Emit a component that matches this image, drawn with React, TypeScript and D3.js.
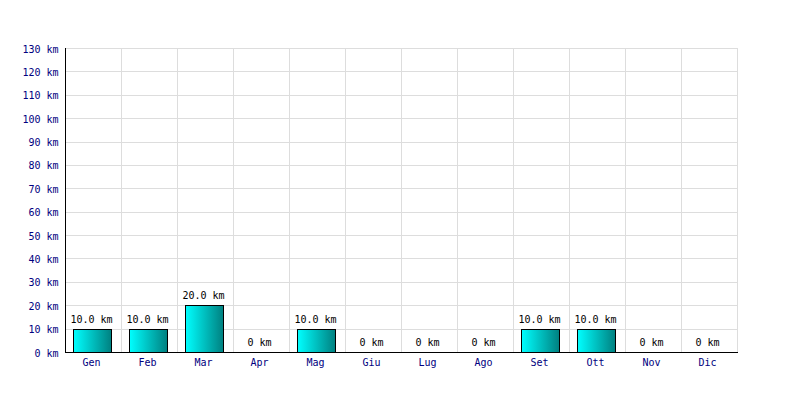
import React from "react";
import * as d3 from "d3";

const months = ["Gen", "Feb", "Mar", "Apr", "Mag", "Giu", "Lug", "Ago", "Set", "Ott", "Nov", "Dic"];
const values = [10, 10, 20, 0, 10, 0, 0, 0, 10, 10, 0, 0];
const yTicks = [0, 10, 20, 30, 40, 50, 60, 70, 80, 90, 100, 110, 120, 130];

export default function App() {
  const W = 800, H = 400;
  const left = 65, right = 737, top = 48, bottom = 352;
  const x = d3.scaleBand<string>().domain(months).range([left, right]).paddingInner(0.32).paddingOuter(0.16);
  const xg = d3.scaleBand<string>().domain(months).range([left, right]);
  const y = d3.scaleLinear().domain([0, 130]).range([bottom, top]);
  const font = "'DejaVu Sans Mono', monospace";
  const fmt = (v: number) => (v === 0 ? "0 km" : `${v.toFixed(1)} km`);
  return (
    <svg width={W} height={H} style={{ position: "absolute", left: 0, top: 0, background: "#fff" }}>
      <defs>
        <linearGradient id="barGrad" x1="0" x2="1" y1="0" y2="0">
          <stop offset="0%" stopColor="#00ffff" />
          <stop offset="100%" stopColor="#008080" />
        </linearGradient>
      </defs>
      {yTicks.map((t) => (
        <line key={"h" + t} x1={left} x2={right} y1={Math.round(y(t)) + 0.5} y2={Math.round(y(t)) + 0.5} stroke="#dddddd" />
      ))}
      {months.map((m) => (
        <line key={"v" + m} x1={Math.round(xg(m)!) + 0.5} x2={Math.round(xg(m)!) + 0.5} y1={top} y2={bottom} stroke="#dddddd" />
      ))}
      <line x1={right + 0.5} x2={right + 0.5} y1={top} y2={bottom} stroke="#dddddd" />
      {months.map((m, i) =>
        values[i] > 0 ? (
          <rect key={"b" + m} x={Math.floor(x(m)!) + 0.5} y={Math.round(y(values[i])) + 0.5}
            width={Math.round(x.bandwidth())} height={Math.round(y(0)) - Math.round(y(values[i]))}
            fill="url(#barGrad)" stroke="#000" />
        ) : null
      )}
      {months.map((m, i) => (
        <text key={"l" + m} x={xg(m)! + xg.bandwidth() / 2 - 1.5} y={y(values[i]) - 6} textAnchor="middle"
          fontFamily={font} fontSize={10} fill="#000">{fmt(values[i])}</text>
      ))}
      <line x1={left + 0.5} x2={left + 0.5} y1={top} y2={bottom + 1} stroke="#000" />
      <line x1={left} x2={right + 1} y1={bottom + 0.5} y2={bottom + 0.5} stroke="#000" />
      {yTicks.map((t) => (
        <text key={"yt" + t} x={58.5} y={y(t) + 4.5} textAnchor="end" fontFamily={font} fontSize={10} fill="#000080">{t} km</text>
      ))}
      {months.map((m) => (
        <text key={"xt" + m} x={xg(m)! + xg.bandwidth() / 2 - 1.5} y={366} textAnchor="middle" fontFamily={font} fontSize={10} fill="#000080">{m}</text>
      ))}
    </svg>
  );
}
